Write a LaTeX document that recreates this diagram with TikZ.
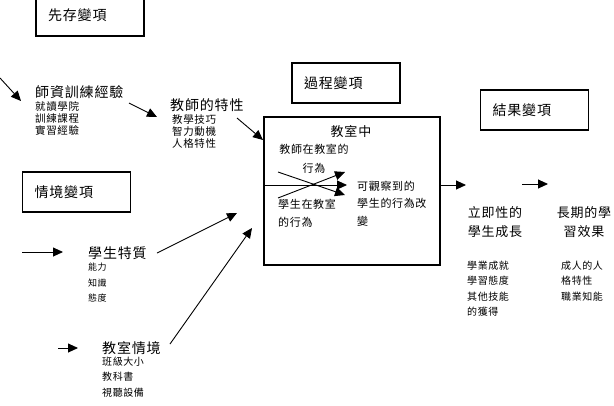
\documentclass[tikz,border=0pt]{standalone}
\usepackage{fontspec}
\setmainfont{Noto Sans CJK TC}[LetterSpace=6]
\usepackage{tikz}
\usetikzlibrary{arrows.meta, positioning}
\tikzset{
  varbox/.style={draw, line width=1.1pt, minimum width=108pt, minimum height=40pt,
                 text width=84pt, inner xsep=12pt, align=left,
                 font=\fontsize{14}{16}\selectfont},
  roombox/.style={draw, line width=1.1pt, minimum width=176pt, minimum height=148pt},
  ttl/.style={inner sep=0pt, font=\fontsize{14}{16}\selectfont},
  subttl/.style={inner sep=0pt, font=\fontsize{11}{19}\selectfont},
  lst/.style={inner sep=0pt, align=left, font=\fontsize{10.5}{12}\selectfont},
  lstwide/.style={inner sep=0pt, align=left, font=\fontsize{10}{15.2}\selectfont},
  farrow/.style={-{Triangle[length=10pt, width=9pt]}, line width=0.9pt},
}

\begin{document}
\begin{tikzpicture}[x=1pt, y=-1pt]

  \useasboundingbox (0,0) rectangle (614,405);

  % variable boxes
  \node[varbox, minimum height=42pt] (presage) at (90,15) {先存變項};
  \node[varbox] (process) at (346,83) {過程變項};
  \node[varbox] (outcome) at (534.5,110) {結果變項};
  \node[varbox] (context) at (76.5,192) {情境變項};
  \node[roombox] (classroom) at (352,191) {};

  % presage
  \node[ttl, anchor=west] (train) at (35,92) {師資訓練經驗};
  \node[lst, anchor=north west] (trainL) at (35,101) {就讀學院\\訓練課程\\實習經驗};
  \node[ttl, anchor=west] (teach) at (170,105) {教師的特性};
  \node[lst, anchor=north west] (teachL) at (172,114) {教學技巧\\智力動機\\人格特性};

  % process
  \node[ttl, font=\fontsize{13}{15}\selectfont] (room) at (351,132) {教室中};
  \node[subttl, align=center, anchor=north] (tbeh) at (314,144) {教師在教室的\\行為};
  \node[subttl, align=left, anchor=north west, font=\fontsize{11}{18}\selectfont]
    (sbeh) at (278,199) {學生在教室\\的行為};
  \node[subttl, align=left, anchor=north west, font=\fontsize{11}{17.5}\selectfont]
    (obs) at (357,181) {可觀察到的\\學生的行為改\\變};

  % outcome
  \node[ttl, align=center, anchor=north, font=\fontsize{13}{19}\selectfont]
    (imm) at (495,206) {立即性的\\學生成長};
  \node[ttl, align=center, anchor=north, font=\fontsize{13}{19}\selectfont]
    (long) at (584,206) {長期的學\\習效果};
  \node[lstwide, anchor=north west] (immL) at (467,261) {學業成就\\學習態度\\其他技能\\的獲得};
  \node[lstwide, anchor=north west] (longL) at (561,261) {成人的人\\格特性\\職業知能};

  % context
  \node[ttl, anchor=west] (stu) at (88,253) {學生特質};
  \node[lstwide, anchor=north west, font=\fontsize{9}{15.5}\selectfont] (stuL) at (88,263) {能力\\知識\\態度};
  \node[ttl, anchor=west] (cls) at (102,348) {教室情境};
  \node[lstwide, anchor=north west] (clsL) at (102,357) {班級大小\\教科書\\視聽設備};

  % connector ends
  \coordinate (preIn)   at (0,78);
  \coordinate (trainIn) at (21,101);
  \coordinate (trainOut) at (129,103);
  \coordinate (teachIn) at (157,117);
  \coordinate (teachOut) at (237,118);
  \coordinate (roomIn)  at (263,140);
  \coordinate (midIn)   at (264,185);
  \coordinate (midOut)  at (347,185);
  \coordinate (tbehA)   at (278,172);
  \coordinate (tbehB)   at (345,195);
  \coordinate (sbehA)   at (278,198);
  \coordinate (sbehB)   at (345,172);
  \coordinate (roomOut) at (440,185);
  \coordinate (immIn)   at (466,185);
  \coordinate (immOut)  at (522,184);
  \coordinate (longIn)  at (548,184);
  \coordinate (ctxOut)  at (22,252);
  \coordinate (stuIn)   at (63,252);
  \coordinate (stuOut)  at (157,253);
  \coordinate (stuEnd)  at (237,213);
  \coordinate (clsOut0) at (58,348);
  \coordinate (clsIn)   at (78,348);
  \coordinate (clsOut)  at (170,344);
  \coordinate (clsEnd)  at (252,228);

  % arrows
  \draw[farrow] (preIn) -- (trainIn);
  \draw[farrow] (trainOut) -- (teachIn);
  \draw[farrow] (teachOut) -- (roomIn);
  \draw[farrow] (midIn) -- (midOut);
  \draw[farrow] (tbehA) -- (tbehB);
  \draw[farrow] (sbehA) -- (sbehB);
  \draw[farrow] (roomOut) -- (immIn);
  \draw[farrow] (immOut) -- (longIn);
  \draw[farrow] (ctxOut) -- (stuIn);
  \draw[farrow] (stuOut) -- (stuEnd);
  \draw[farrow] (clsOut0) -- (clsIn);
  \draw[farrow] (clsOut) -- (clsEnd);

\end{tikzpicture}
\end{document}
